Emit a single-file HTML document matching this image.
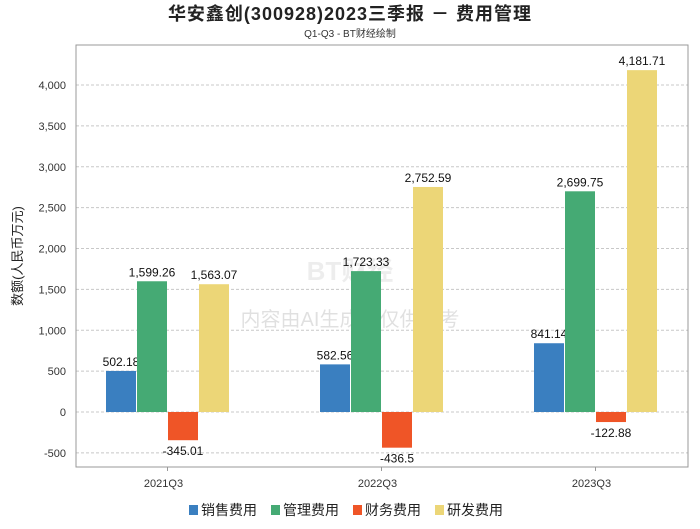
<!DOCTYPE html>
<html><head><meta charset="utf-8"><style>
body{margin:0;background:#fff;width:700px;height:524px;overflow:hidden;font-family:"Liberation Sans","Noto Sans CJK SC",sans-serif}
</style></head><body>
<svg id="c" width="700" height="524" xmlns="http://www.w3.org/2000/svg" font-family="Liberation Sans, Noto Sans CJK SC, sans-serif"></svg>
<script>
const categories=["2021Q3","2022Q3","2023Q3"];
const seriesNames=["销售费用","管理费用","财务费用","研发费用"];
const sales=[502.18,582.56,841.14];
const admin=[1599.26,1723.33,2699.75];
const finance=[-345.01,-436.5,-122.88];
const rnd=[1563.07,2752.59,4181.71];
const labels=[["502.18","582.56","841.14"],["1,599.26","1,723.33","2,699.75"],["-345.01","-436.5","-122.88"],["1,563.07","2,752.59","4,181.71"]];
const yTicks=[-500,0,500,1000,1500,2000,2500,3000,3500,4000];
const yTickLabels=["-500","0","500","1,000","1,500","2,000","2,500","3,000","3,500","4,000"];
const colors=["#3a7fc0","#45aa74","#ef5527","#ecd677"];
const series=[sales,admin,finance,rnd];
const ns="http://www.w3.org/2000/svg",svg=document.getElementById('c');
function el(t,a,txt){const e=document.createElementNS(ns,t);for(const k in a)e.setAttribute(k,a[k]);if(txt!=null)e.textContent=txt;svg.appendChild(e);return e;}
const L=76,R=688,T=45,B=467;
function y(v){return 412-v*0.08175;}
function xc(i){return 167.5+i*214;}
let e;
e=el('text',{x:350,y:20,'text-anchor':'middle','font-size':18,'font-weight':'bold',fill:'#222','letter-spacing':'1'},'华安鑫创(300928)2023三季报 － 费用管理');


e=el('text',{x:350,y:37,'text-anchor':'middle','font-size':10,fill:'#333'},'Q1-Q3 - BT财经绘制');


e=el('text',{x:350,y:326,'text-anchor':'middle','font-size':20,fill:'#000','fill-opacity':0.12},'内容由AI生成，仅供参考');


e=el('text',{x:350,y:280,'text-anchor':'middle','font-size':26,'font-weight':'bold',fill:'#000','fill-opacity':0.07},'BT财经');


yTicks.forEach((t,i)=>{
 e=el('line',{x1:L,x2:R,y1:y(t),y2:y(t),stroke:'#c8c8c8','stroke-dasharray':'3,2'});
 
 
 e=el('text',{x:66,y:y(t)+4,'text-anchor':'end','font-size':11,fill:'#333'},yTickLabels[i]);
 
 
});
e=el('rect',{x:L,y:T,width:R-L,height:B-T,fill:'none',stroke:'#999'});


e=el('text',{x:0,y:0,transform:'translate(22,256) rotate(-90)','text-anchor':'middle','font-size':13,fill:'#222'},'数额(人民币万元)');


categories.forEach((c,i)=>{
 e=el('line',{x1:xc(i),x2:xc(i),y1:B,y2:B+4,stroke:'#999'});
 
 
 e=el('text',{x:xc(i)-4,y:487,'text-anchor':'middle','font-size':11,fill:'#333'},c);
 
 
 series.forEach((s,j)=>{
  const v=s[i],x=xc(i)-61.5+j*31,y0=y(0),y1=y(v);
  e=el('rect',{x:x,y:Math.min(y0,y1),width:30,height:Math.abs(y1-y0),fill:colors[j]});
  
  
  const ly=v>=0?y1-5:y1+15;
  e=el('text',{x:x+15,y:ly,'text-anchor':'middle','font-size':12,fill:'#111'},labels[j][i]);
  
  
 });
});
let lx=189;
seriesNames.forEach((n,j)=>{
 e=el('rect',{x:lx,y:505,width:9,height:10,fill:colors[j]});
 
 
 e=el('text',{x:lx+12,y:515,'font-size':14,fill:'#222'},n);
 
 
 lx+=82;
});
</script>
</body></html>
